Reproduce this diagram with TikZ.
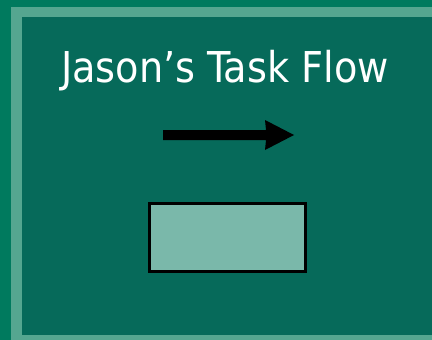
\documentclass[tikz,border=0pt]{standalone}
\usepackage{fontspec}
\setmainfont{DejaVu Sans Condensed}
\definecolor{outerg}{RGB}{0,122,94}
\definecolor{bandg}{RGB}{85,166,144}
\definecolor{innerg}{RGB}{6,106,90}
\definecolor{boxg}{RGB}{122,184,170}
\tikzset{
  titletext/.style={text=white, font=\fontsize{42.5}{50}\selectfont, inner sep=0pt, anchor=base},
  flowarrow/.style={fill=black, draw=none},
  taskbox/.style={draw=black, line width=3pt, fill=boxg, minimum width=156pt, minimum height=68pt, inner sep=0pt}
}
\begin{document}
\begin{tikzpicture}[x=1pt,y=-1pt]
\useasboundingbox (0,0) rectangle (432,340);
\fill[outerg] (0,0) rectangle (432,340);
\fill[bandg] (11,7) rectangle (432,340);
\fill[innerg] (22,17) rectangle (432,335);
\node[titletext] (title) at (225,82) {Jason’s Task Flow};
\fill[flowarrow] (163,130) -- (266,130) -- (265,120) -- (294,135) -- (265,150) -- (266,140) -- (163,140) -- cycle;
\node[taskbox] (task) at (227,237) {};
\end{tikzpicture}
\end{document}
